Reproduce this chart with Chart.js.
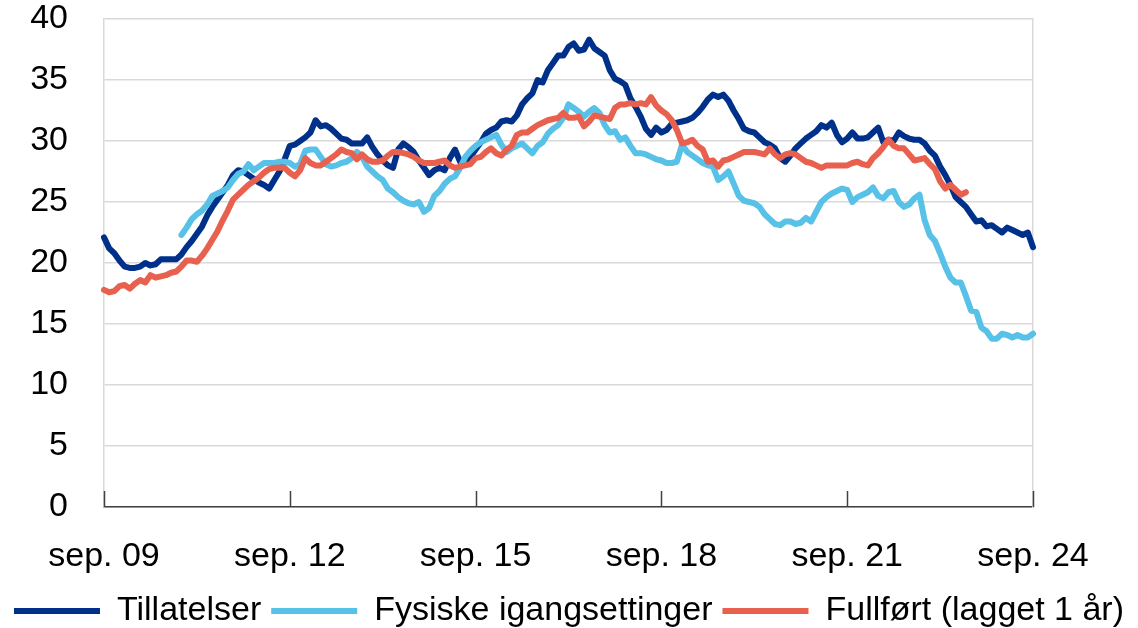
<!DOCTYPE html>
<html>
<head>
<meta charset="utf-8">
<script src="https://cdn.jsdelivr.net/npm/chart.js@4"></script>
<style>
  html, body { margin: 0; padding: 0; background: #fff; overflow: hidden; }
  #wrap { width: 1138px; height: 638px; position: relative; }
</style>
</head>
<body>
<div id="wrap"><canvas id="chart"></canvas></div>
<script>
// -------- Data ----------
const MONTHS = ["jan.", "feb.", "mar.", "apr.", "mai", "jun.", "jul.", "aug.", "sep.", "okt.", "nov.", "des."];
const START_YEAR = 2009, START_MONTH = 8, N_MONTHS = 181; // sep. 09 .. sep. 24
const TICK_EVERY = 36; // label every third September

const tillatelser = [
  22.1, 21.2, 20.8, 20.2, 19.7, 19.6, 19.6, 19.7, 20.0, 19.8, 19.9, 20.3,
  20.3, 20.3, 20.3, 20.7, 21.3, 21.8, 22.4, 23.0, 23.9, 24.6, 25.2, 25.8,
  26.4, 27.2, 27.6, 27.5, 27.2, 26.9, 26.6, 26.4, 26.1, 26.8, 27.5, 28.5,
  29.6, 29.7, 30.0, 30.3, 30.7, 31.7, 31.2, 31.3, 31.0, 30.6, 30.2, 30.1,
  29.8, 29.8, 29.8, 30.3, 29.5, 28.9, 28.4, 28.0, 27.8, 29.3, 29.8, 29.5,
  29.1, 28.4, 27.8, 27.2, 27.6, 27.8, 27.6, 28.6, 29.3, 28.3, 28.3, 28.7,
  29.3, 29.9, 30.6, 30.9, 31.1, 31.6, 31.7, 31.6, 32.1, 33.0, 33.5, 33.9,
  35.0, 34.8, 35.8, 36.4, 37.0, 37.0, 37.7, 38.0, 37.4, 37.5, 38.3, 37.6,
  37.3, 37.0, 35.8, 35.1, 34.9, 34.6, 33.5, 32.8, 32.0, 31.0, 30.5, 31.1,
  30.7, 30.9, 31.4, 31.5, 31.6, 31.7, 31.9, 32.3, 32.8, 33.4, 33.8, 33.6,
  33.8, 33.3, 32.5, 31.8, 31.0, 30.8, 30.7, 30.3, 29.9, 29.7, 29.4, 28.6,
  28.3, 28.8, 29.4, 29.8, 30.2, 30.5, 30.8, 31.3, 31.1, 31.5, 30.5, 29.9,
  30.2, 30.7, 30.2, 30.2, 30.3, 30.7, 31.1, 29.9, 30.1, 30.0, 30.7, 30.4,
  30.2, 30.1, 30.1, 29.8, 29.2, 28.8, 27.9, 27.2, 26.4, 25.4, 25.0, 24.6,
  24.0, 23.4, 23.5, 23.0, 23.1, 22.8, 22.5, 22.9, 22.7, 22.5, 22.3, 22.5, 21.3
];

const igangsettinger = [
  null, null, null, null, null, null, null, null, null, null, null, null,
  null, null, null, 22.3, 22.9, 23.6, 24.0, 24.3, 24.8, 25.5, 25.7, 25.9,
  26.2, 26.8, 27.3, 27.5, 28.1, 27.6, 27.9, 28.2, 28.2, 28.2, 28.3, 28.3,
  28.2, 27.9, 28.1, 29.2, 29.3, 29.3, 28.7, 28.1, 27.9, 28.0, 28.2, 28.3,
  28.6, 29.1, 28.7, 27.9, 27.5, 27.1, 26.8, 26.1, 25.8, 25.4, 25.1, 24.9,
  24.8, 25.0, 24.2, 24.5, 25.5, 25.9, 26.5, 26.9, 27.1, 27.8, 28.7, 29.2,
  29.6, 29.9, 30.1, 30.3, 30.5, 29.7, 29.1, 29.4, 29.6, 29.8, 29.4, 29.0,
  29.6, 29.9, 30.6, 31.0, 31.3, 31.9, 33.0, 32.7, 32.4, 32.0, 32.4, 32.7,
  32.3, 31.3, 30.7, 30.8, 30.1, 30.3, 29.6, 29.0, 29.0, 28.9, 28.7, 28.5,
  28.4, 28.2, 28.2, 28.3, 29.7, 29.1, 28.8, 28.5, 28.2, 28.0, 27.9, 26.8,
  27.1, 27.5, 26.5, 25.5, 25.1, 25.0, 24.9, 24.6, 24.0, 23.6, 23.2, 23.1,
  23.4, 23.4, 23.2, 23.3, 23.7, 23.4, 24.2, 25.0, 25.4, 25.7, 25.9, 26.1,
  26.0, 25.0, 25.4, 25.6, 25.8, 26.2, 25.5, 25.3, 25.8, 25.9, 25.0, 24.6,
  24.8, 25.3, 25.6, 23.5, 22.3, 21.8, 20.8, 19.7, 18.8, 18.4, 18.4, 17.3,
  16.1, 16.0, 14.7, 14.4, 13.8, 13.8, 14.2, 14.1, 13.9, 14.1, 13.9, 13.9, 14.2
];

const fullfort = [
  17.8, 17.6, 17.7, 18.1, 18.2, 17.9, 18.3, 18.6, 18.4, 19.0, 18.8, 18.9,
  19.0, 19.2, 19.3, 19.7, 20.2, 20.2, 20.1, 20.6, 21.2, 21.9, 22.6, 23.5,
  24.3, 25.2, 25.6, 26.0, 26.4, 26.7, 27.0, 27.4, 27.7, 27.8, 27.8, 27.8,
  27.4, 27.1, 27.6, 28.6, 28.2, 28.0, 28.0, 28.3, 28.6, 28.9, 29.3, 29.1,
  29.0, 28.5, 28.9, 28.5, 28.3, 28.3, 28.4, 28.8, 29.1, 29.1, 29.0, 28.9,
  28.7, 28.4, 28.2, 28.2, 28.2, 28.3, 28.4, 28.0, 27.8, 27.9, 28.0, 28.1,
  28.6, 28.7, 29.1, 29.4, 29.0, 28.8, 29.3, 29.6, 30.5, 30.7, 30.7, 31.0,
  31.3, 31.5, 31.7, 31.8, 31.9, 32.3, 31.9, 31.9, 32.0, 31.2, 31.6, 32.1,
  32.0, 31.9, 31.8, 32.7, 33.0, 33.0, 33.1, 33.0, 33.1, 33.0, 33.6, 32.9,
  32.5, 32.2, 31.7, 30.9, 29.8, 29.9, 30.1, 29.6, 29.3, 28.3, 28.4, 27.9,
  28.4, 28.5, 28.7, 28.9, 29.1, 29.1, 29.1, 29.0, 28.9, 29.4, 28.9, 28.6,
  28.9, 29.0, 28.9, 28.6, 28.3, 28.2, 28.0, 27.8, 28.0, 28.0, 28.0, 28.0,
  28.0, 28.2, 28.3, 28.1, 28.0, 28.6, 29.0, 29.5, 30.1, 29.6, 29.4, 29.4,
  28.9, 28.4, 28.5, 28.6, 28.1, 27.7, 26.7, 26.1, 26.4, 26.0, 25.6, 25.8,
  null, null, null, null, null, null, null, null, null, null, null, null, null
];

const SERIES_NAMES = ["Tillatelser", "Fysiske igangsettinger", "Fullført (lagget 1 år)"];
const COLORS = ["#00318A", "#57C1E7", "#E8604E"];

// month labels "sep. 09", "okt. 09", ...
const labels = [];
for (let i = 0; i < N_MONTHS; i++) {
  const m = (START_MONTH + i) % 12;
  const y = START_YEAR + Math.floor((START_MONTH + i) / 12);
  labels.push(`${MONTHS[m]} ${String(y % 100).padStart(2, "0")}`);
}

// -------- Helpers ----------
const FONT = "'Liberation Sans', Arial, sans-serif";

// small inward tick marks on the x axis
const axisDecor = {
  id: "axisDecor",
  afterDraw(chart) {
    const { ctx, chartArea } = chart;
    const x = chart.scales.x;
    ctx.save();
    ctx.strokeStyle = "#404040";
    ctx.lineWidth = 1.5;
    for (let i = 0; i < labels.length; i += TICK_EVERY) {
      const px = Math.round(x.getPixelForValue(i)) + 0.5;
      ctx.beginPath();
      ctx.moveTo(px, chartArea.bottom);
      ctx.lineTo(px, chartArea.bottom - 16);
      ctx.stroke();
    }
    ctx.restore();
  }
};

function line(label, data, color, order) {
  return {
    label, data, order,
    borderColor: color,
    backgroundColor: color,
    borderWidth: 6,
    borderCapStyle: "round",
    borderJoinStyle: "round",
    pointRadius: 0,
    tension: 0,
    spanGaps: false
  };
}

// fixed axis box sizes, no extra label padding
const fixWidth = (w) => (s) => { s.width = w; s.paddingTop = 0; s.paddingBottom = 0; };

// -------- Chart ----------
Chart.defaults.font.family = FONT;
Chart.defaults.color = "#000";

new Chart(document.getElementById("chart"), {
  type: "line",
  data: {
    labels,
    datasets: [
      line(SERIES_NAMES[0], tillatelser, COLORS[0], 2),
      line(SERIES_NAMES[1], igangsettinger, COLORS[1], 1),
      line(SERIES_NAMES[2], fullfort, COLORS[2], 0)
    ]
  },
  options: {
    responsive: true,
    maintainAspectRatio: false,
    animation: false,
    layout: { padding: { left: 0, right: 0, top: 19, bottom: 0 } },
    plugins: {
      tooltip: { enabled: false },
      legend: {
        position: "bottom",
        labels: {
          font: { size: 34 },
          color: "#000",
          usePointStyle: true,
          pointStyle: "line",
          pointStyleWidth: 86,
          padding: 10,
          sort: (a, b) => a.datasetIndex - b.datasetIndex
        }
      }
    },
    scales: {
      x: {
        type: "category",
        grid: { display: false, drawTicks: false },
        border: { color: "#404040", width: 1.5 },
        ticks: {
          autoSkip: false,
          maxRotation: 0,
          padding: 29,
          font: { size: 34 },
          callback: (v, i) => (i % TICK_EVERY === 0 ? labels[i] : "")
        },
        afterFit: (s) => { s.height = 77; }
      },
      y: {
        min: 0, max: 40,
        grid: { color: "#d9d9d9", lineWidth: 1.5, drawTicks: false },
        border: { color: "#d9d9d9", width: 1.5 },
        ticks: { stepSize: 5, padding: 36, font: { size: 34 } },
        afterFit: fixWidth(104)
      },
      y2: {
        position: "right",
        min: 0, max: 40,
        grid: { display: false, drawTicks: false },
        border: { color: "#d9d9d9", width: 1.5 },
        ticks: { display: false },
        afterFit: fixWidth(105)
      }
    }
  },
  plugins: [axisDecor]
});
</script>
</body>
</html>
